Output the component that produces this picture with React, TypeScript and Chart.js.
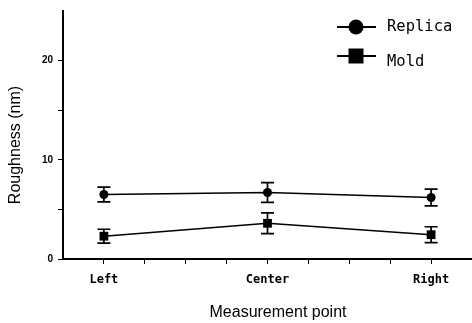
import React, { useEffect, useRef } from "react";
import { Chart, registerables } from "chart.js";

Chart.register(...registerables);

const categories = ["Left", "Center", "Right"];
const replicaValues = [6.5, 6.7, 6.2];
const replicaErrors = [0.75, 1.0, 0.85];
const moldValues = [2.3, 3.6, 2.45];
const moldErrors = [0.7, 1.05, 0.8];
const seriesNames = ["Replica", "Mold"];
const yTickLabels = [0, 10, 20];

const errorBarPlugin = {
  id: "errorBars",
  afterDatasetsDraw(chart: any) {
    const { ctx } = chart;
    const xs = chart.scales.x;
    const ys = chart.scales.y;
    const errs = [replicaErrors, moldErrors];
    chart.data.datasets.forEach((ds: any, di: number) => {
      ds.data.forEach((p: any, i: number) => {
        const x = xs.getPixelForValue(p.x);
        const yt = ys.getPixelForValue(p.y + errs[di][i]);
        const yb = ys.getPixelForValue(p.y - errs[di][i]);
        ctx.save();
        ctx.strokeStyle = "#000";
        ctx.lineWidth = 1.7;
        ctx.beginPath();
        ctx.moveTo(x, yt);
        ctx.lineTo(x, yb);
        ctx.moveTo(x - 6.5, yt);
        ctx.lineTo(x + 6.5, yt);
        ctx.moveTo(x - 6.5, yb);
        ctx.lineTo(x + 6.5, yb);
        ctx.stroke();
        ctx.restore();
      });
    });
  },
};

const decorPlugin = {
  id: "decor",
  afterDraw(chart: any) {
    const { ctx } = chart;
    ctx.save();
    ctx.fillStyle = "#000";
    ctx.strokeStyle = "#000";
    ctx.font = "16px 'Liberation Sans', Arial, sans-serif";
    ctx.textAlign = "center";
    ctx.textBaseline = "alphabetic";
    ctx.fillText("Measurement point", 278, 317);
    ctx.save();
    ctx.translate(20, 145);
    ctx.rotate(-Math.PI / 2);
    ctx.fillText("Roughness (nm)", 0, 0);
    ctx.restore();
    const rows = [
      { name: seriesNames[0], y: 27, base: 31, shape: "circle" },
      { name: seriesNames[1], y: 56, base: 66, shape: "rect" },
    ];
    rows.forEach((r) => {
      ctx.lineWidth = 2;
      ctx.beginPath();
      ctx.moveTo(337, r.y);
      ctx.lineTo(376, r.y);
      ctx.stroke();
      ctx.beginPath();
      if (r.shape === "circle") {
        ctx.arc(356, r.y, 7.5, 0, Math.PI * 2);
      } else {
        ctx.rect(348.5, r.y - 7.5, 15, 15);
      }
      ctx.fill();
      ctx.font = "15.5px 'DejaVu Sans Mono', monospace";
      ctx.textAlign = "left";
      ctx.fillText(r.name, 387, r.base);
    });
    ctx.restore();
  },
};

export default function App() {
  const ref = useRef<HTMLCanvasElement>(null);
  useEffect(() => {
    if (!ref.current) return;
    const chart = new Chart(ref.current, {
      type: "line",
      data: {
        datasets: [
          {
            label: seriesNames[0],
            data: replicaValues.map((v, i) => ({ x: i, y: v })),
            borderColor: "#000",
            backgroundColor: "#000",
            borderWidth: 1.6,
            pointStyle: "circle",
            pointRadius: 4.5,
            pointBorderWidth: 0,
          },
          {
            label: seriesNames[1],
            data: moldValues.map((v, i) => ({ x: i, y: v })),
            borderColor: "#000",
            backgroundColor: "#000",
            borderWidth: 1.6,
            pointStyle: "rect",
            pointRadius: 6.2,
            pointBorderWidth: 0,
          },
        ],
      },
      options: {
        responsive: false,
        animation: false,
        layout: { autoPadding: false, padding: { top: 8, right: 0, left: 0, bottom: 0 } },
        plugins: { legend: { display: false }, tooltip: { enabled: false } },
        scales: {
          x: {
            type: "linear",
            min: -0.25,
            max: 2.25,
            afterBuildTicks: (s: any) => {
              s.ticks = s.ticks.filter((t: any) => t.value > -0.2);
            },
            afterFit: (s: any) => {
              s.height = 64;
              s.paddingRight = 0;
            },
            ticks: {
              stepSize: 0.25,
              autoSkip: false,
              maxRotation: 0,
              padding: 9,
              color: "#000",
              font: { family: "'DejaVu Sans Mono', monospace", size: 12, weight: "bold" },
              callback: (v: any) =>
                Number.isInteger(v) && categories[v] !== undefined ? categories[v] : "",
            },
            grid: { drawOnChartArea: false, drawTicks: true, tickLength: 5, color: "#000", lineWidth: 1 },
            border: { color: "#000", width: 2 },
          },
          y: {
            min: 0,
            max: 25,
            afterBuildTicks: (s: any) => {
              s.ticks = s.ticks.filter((t: any) => t.value <= 20);
            },
            afterFit: (s: any) => {
              s.width = 63;
            },
            ticks: {
              stepSize: 5,
              padding: 5,
              color: "#000",
              font: { family: "'Liberation Sans', Arial, sans-serif", size: 10, weight: "bold" },
              callback: (v: any) => (yTickLabels.includes(v) ? String(v) : ""),
            },
            grid: { drawOnChartArea: false, drawTicks: true, tickLength: 5, color: "#000", lineWidth: 1 },
            border: { color: "#000", width: 2 },
          },
        },
      },
      plugins: [errorBarPlugin, decorPlugin],
    } as any);
    return () => chart.destroy();
  }, []);
  return (
    <div style={{ position: "absolute", left: 0, top: 0, width: 472, height: 323, background: "#fff" }}>
      <canvas ref={ref} width={472} height={323} />
    </div>
  );
}
